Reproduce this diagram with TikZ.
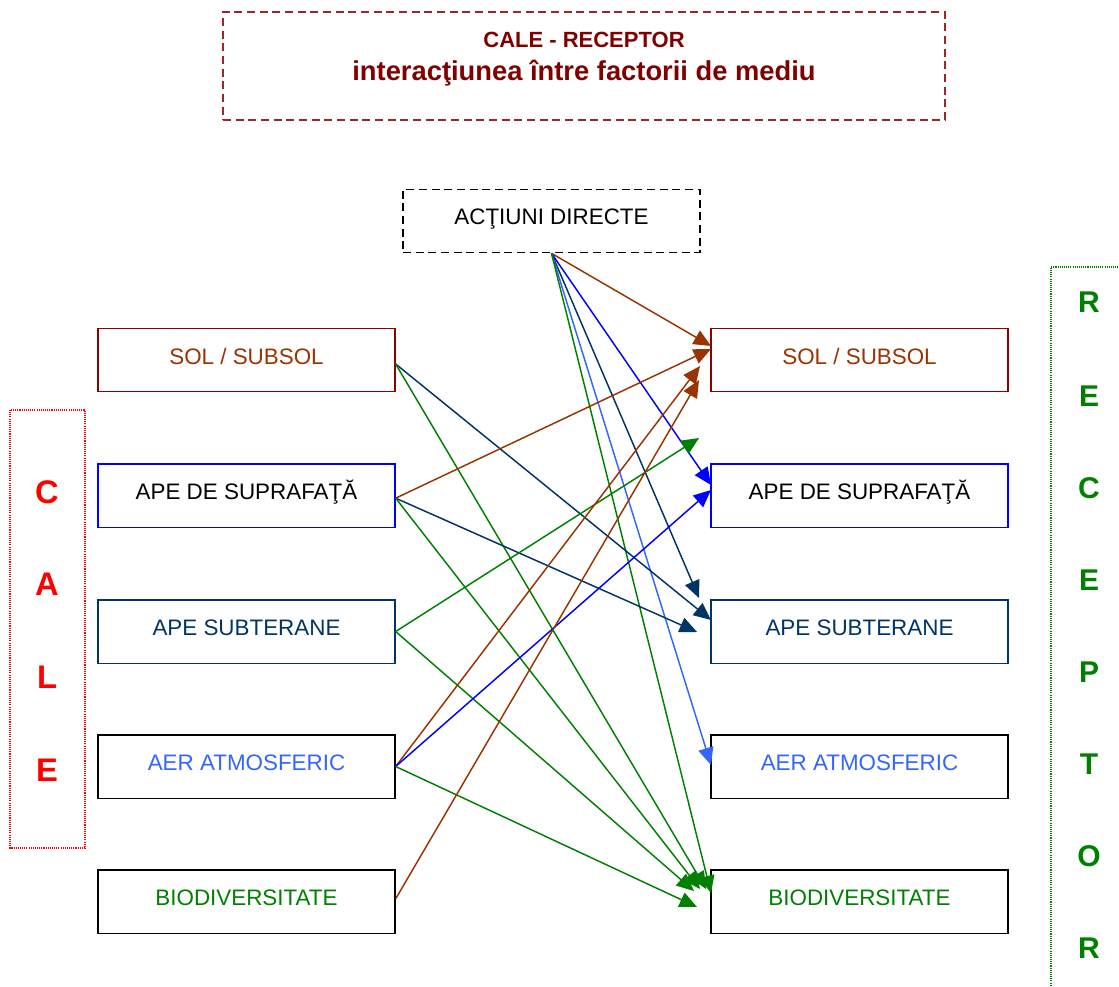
\documentclass[tikz,border=0pt]{standalone}
\usepackage{fontspec}
\setmainfont{Liberation Sans}
\usetikzlibrary{arrows.meta}
\definecolor{maroonT}{RGB}{128,0,0}
\definecolor{titlebox}{RGB}{155,40,40}
\definecolor{solbox}{RGB}{140,0,0}
\definecolor{brownA}{RGB}{153,51,0}
\definecolor{navyA}{RGB}{0,51,102}
\definecolor{blueA}{RGB}{0,0,255}
\definecolor{lblueA}{RGB}{51,102,255}
\definecolor{greenA}{RGB}{0,128,0}
\definecolor{redA}{RGB}{255,0,0}
\begin{document}
\begin{tikzpicture}[x=0.75pt,y=-0.75pt,
  box/.style={draw, line width=1pt, minimum width=222.75pt, minimum height=47.5pt, inner sep=0pt, text height=12pt, text depth=6pt, font=\fontsize{16.8}{20}\selectfont},
  dashbox/.style={box, dash pattern=on 6pt off 3.5pt},
  arr/.style={line width=1.1pt, -{Triangle[length=13pt,width=11.5pt]}},
  bigletter/.style={font=\fontsize{24.5}{28}\selectfont\bfseries, inner sep=0pt},
  titletext/.style={text=maroonT, inner sep=0pt}
]
\useasboundingbox (0,0) rectangle (1119,987);

% title
\node[dashbox, draw=titlebox, minimum width=541.5pt, minimum height=81pt] (title) at (584,66) {};
\node[titletext, font=\fontsize{16.5}{20}\selectfont\bfseries] (t1) at (584,40) {CALE - RECEPTOR};
\node[titletext, font=\fontsize{20.5}{24}\selectfont\bfseries] (t2) at (584,73) {interacţiunea între factorii de mediu};

% direct actions
\node[dashbox, draw=black] (act) at (551.5,221) {ACŢIUNI DIRECTE};

% left boxes
\node[box, draw=solbox, text=brownA] (lsol) at (246.5,360) {SOL / SUBSOL};
\node[box, draw=blueA] (lsup) at (246.5,495.5) {APE DE SUPRAFAŢĂ};
\node[box, draw=navyA, text=navyA] (lsub) at (246.5,631.5) {APE SUBTERANE};
\node[box, draw=black, text=lblueA] (laer) at (246.5,766.5) {AER ATMOSFERIC};
\node[box, draw=black, text=greenA] (lbio) at (246.5,901.5) {BIODIVERSITATE};

% right boxes
\node[box, draw=solbox, text=brownA] (rsol) at (859.5,360) {SOL / SUBSOL};
\node[box, draw=blueA] (rsup) at (859.5,495.5) {APE DE SUPRAFAŢĂ};
\node[box, draw=navyA, text=navyA] (rsub) at (859.5,631.5) {APE SUBTERANE};
\node[box, draw=black, text=lblueA] (raer) at (859.5,766.5) {AER ATMOSFERIC};
\node[box, draw=black, text=greenA] (rbio) at (859.5,901.5) {BIODIVERSITATE};

% CALE frame
\draw[redA, line width=0.8pt, dash pattern=on 0.8pt off 0.8pt] (10,410) rectangle (85,848);
\foreach \l/\y [count=\i] in {C/492,A/584,L/677,E/770}
  \node[bigletter, text=redA] (cale\i) at (47,\y) {\l};

% RECEPTOR frame
\draw[greenA, line width=0.8pt, dash pattern=on 0.8pt off 0.8pt] (1051,990) -- (1051,267) -- (1125,267);
\foreach \l/\y [count=\i] in {R/302,E/396,C/488,E/580,P/672,T/764,O/856,R/948}
  \node[bigletter, font=\fontsize{22.5}{26}\selectfont\bfseries, text=greenA] (rec\i) at (1089,\y) {\l};

% arrow start coordinates (just below the centre of the left boxes' east sides)
\coordinate (s1) at ([yshift=-3pt]lsol.east);
\coordinate (s2) at ([yshift=-2pt]lsup.east);
\coordinate (s3) at (lsub.east);
\coordinate (s4) at (laer.east);
\coordinate (s5) at ([yshift=2pt]lbio.east);

% arrow end coordinates
\coordinate (e1) at (711,346);
\coordinate (e2) at (711,485);
\coordinate (e3) at (699,598);
\coordinate (e4) at (711,765);
\coordinate (e5) at (711,893);
\coordinate (e6) at (711,620);
\coordinate (e7) at (706,889);
\coordinate (e8) at (711,349);
\coordinate (e9) at (697,632);
\coordinate (e10) at (700,889);
\coordinate (e11) at (699,438);
\coordinate (e12) at (694,891);
\coordinate (e13) at (700,366);
\coordinate (e14) at (711,490);
\coordinate (e15) at (697,907);
\coordinate (e16) at (699,380);

% arrows from direct actions
\draw[arr, brownA] (act.south) -- (e1);
\draw[arr, blueA] (act.south) -- (e2);
\draw[arr, navyA] (act.south) -- (e3);
\draw[arr, lblueA] (act.south) -- (e4);
\draw[arr, greenA] (act.south) -- (e5);

% arrows from left boxes
\draw[arr, navyA] (s1) -- (e6);
\draw[arr, greenA] (s1) -- (e7);
\draw[arr, brownA] (s2) -- (e8);
\draw[arr, navyA] (s2) -- (e9);
\draw[arr, greenA] (s2) -- (e10);
\draw[arr, greenA] (s3) -- (e11);
\draw[arr, greenA] (s3) -- (e12);
\draw[arr, brownA] (s4) -- (e13);
\draw[arr, blueA] (s4) -- (e14);
\draw[arr, greenA] (s4) -- (e15);
\draw[arr, brownA] (s5) -- (e16);
\end{tikzpicture}
\end{document}
